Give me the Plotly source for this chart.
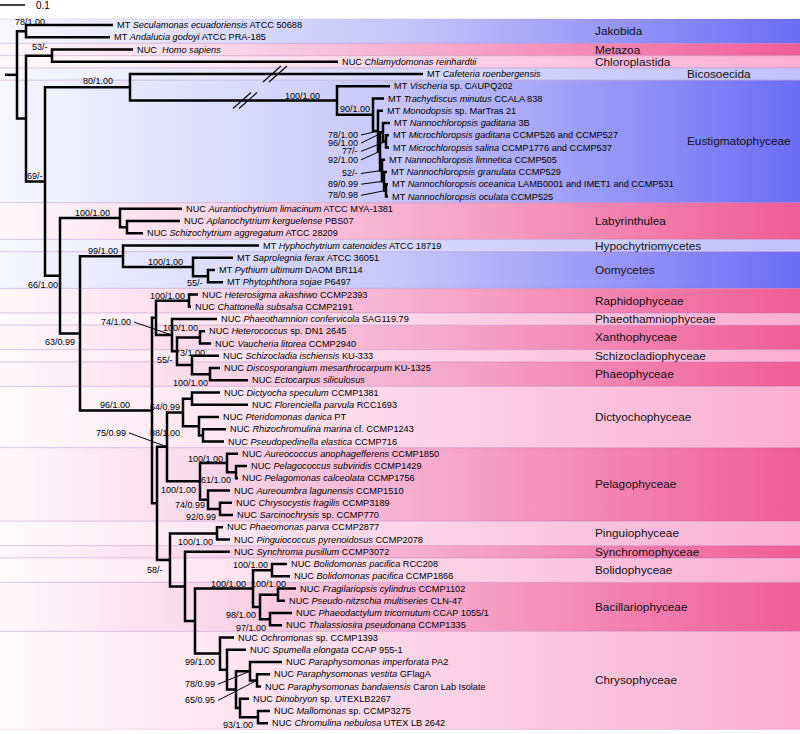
import plotly.graph_objects as go

# ---------------- data ----------------
LEAF_PREFIX = ["MT", "MT", "NUC ", "NUC", "MT",
               "MT", "MT", "MT", "MT", "MT", "MT", "MT", "MT", "MT", "MT",
               "NUC", "NUC", "NUC", "MT", "MT", "MT", "MT",
               "NUC", "NUC", "NUC", "NUC", "NUC", "NUC", "NUC", "NUC",
               "NUC", "NUC", "NUC", "NUC", "NUC",
               "NUC", "NUC", "NUC", "NUC", "NUC", "NUC",
               "NUC", "NUC", "NUC", "NUC", "NUC",
               "NUC", "NUC", "NUC", "NUC",
               "NUC", "NUC", "NUC", "NUC", "NUC", "NUC", "NUC", "NUC"]
LEAF_TAXON = ["Seculamonas ecuadoriensis", "Andalucia godoyi", "Homo sapiens", "Chlamydomonas reinhardtii",
              "Cafeteria roenbergensis",
              "Vischeria", "Trachydiscus minutus", "Monodopsis", "Nannochloropsis gaditana",
              "Microchloropsis gaditana", "Microchloropsis salina", "Nannochloropsis limnetica",
              "Nannochloropsis granulata", "Nannochloropsis oceanica", "Nannochloropsis oculata",
              "Aurantiochytrium limacinum", "Aplanochytrium kerguelense", "Schizochytrium aggregatum",
              "Hyphochytrium catenoides", "Saprolegnia ferax", "Pythium ultimum", "Phytophthora sojae",
              "Heterosigma akashiwo", "Chattonella subsalsa", "Phaeothamnion confervicola",
              "Heterococcus", "Vaucheria litorea", "Schizocladia ischiensis",
              "Discosporangium mesarthrocarpum", "Ectocarpus siliculosus",
              "Dictyocha speculum", "Florenciella parvula", "Pteridomonas danica",
              "Rhizochromulina marina", "Pseudopedinella elastica",
              "Aureococcus anophagefferens", "Pelagococcus subviridis", "Pelagomonas calceolata",
              "Aureoumbra lagunensis", "Chrysocystis fragilis", "Sarcinochrysis",
              "Phaeomonas parva", "Pinguiococcus pyrenoidosus", "Synchroma pusillum",
              "Bolidomonas pacifica", "Bolidomonas pacifica",
              "Fragilariopsis cylindrus", "Pseudo-nitzschia multiseries", "Phaeodactylum tricornutum",
              "Thalassiosira pseudonana",
              "Ochromonas", "Spumella elongata", "Paraphysomonas imperforata", "Paraphysomonas vestita",
              "Paraphysomonas bandaiensis", "Dinobryon", "Mallomonas", "Chromulina nebulosa"]
LEAF_STRAIN = ["ATCC 50688", "ATCC PRA-185", "", "", "",
               "sp. CAUPQ202", "CCALA 838", "sp. MarTras 21", "3B",
               "CCMP526 and CCMP527", "CCMP1776 and CCMP537", "CCMP505",
               "CCMP529", "LAMB0001 and IMET1 and CCMP531", "CCMP525",
               "ATCC MYA-1381", "PBS07", "ATCC 28209",
               "ATCC 18719", "ATCC 36051", "DAOM BR114", "P6497",
               "CCMP2393", "CCMP2191", "SAG119.79",
               "sp. DN1 2645", "CCMP2940", "KU-333", "KU-1325", "",
               "CCMP1381", "RCC1693", "PT", "cf. CCMP1243", "CCMP716",
               "CCMP1850", "CCMP1429", "CCMP1756", "CCMP1510", "CCMP3189", "sp. CCMP770",
               "CCMP2877", "CCMP2078", "CCMP3072", "RCC208", "CCMP1866",
               "CCMP1102", "CLN-47", "CCAP 1055/1", "CCMP1335",
               "sp. CCMP1393", "CCAP 955-1", "PA2", "GFlagA", "Caron Lab Isolate",
               "sp. UTEXLB2267", "sp. CCMP3275", "UTEX LB 2642"]
# tip positions (tree depth, 25 units = 0.1 substitutions/site)
LEAF_TIP = [113, 110, 133, 338, 423,
            390, 384, 383, 390, 389, 389, 385, 387, 388, 388,
            182, 180, 143, 259, 233, 215, 223,
            198, 191, 217, 205, 211, 219, 220, 248,
            220, 248, 219, 226, 224,
            238, 247, 238, 230, 232, 233,
            223, 230, 230, 287, 290,
            296, 285, 292, 282,
            234, 246, 282, 270, 261, 249, 270, 268]

NODE_ID = ["R", "J", "A", "M", "B", "K", "Eu", "N90", "N2", "N3", "N4", "N5", "N6", "N7", "N8",
           "C", "L", "L2", "D", "HO", "O", "O2", "E", "F", "Ra", "H", "I", "X", "S", "P",
           "Q", "G", "Dy", "Dy1", "Dy2", "Dy3", "Pe", "Pe1", "Pe2", "Pe3", "Pe4",
           "T", "Pi", "U", "V", "W", "Bo", "B1", "B2", "B3",
           "C1", "C2", "C3", "C4", "C6", "C5", "C7"]
NODE_X = [17, 26, 26, 52, 45, 130, 337, 373, 378, 380, 383, 386, 382, 384, 386,
          60, 120, 127, 80, 123, 193, 208, 152, 156, 189, 172, 177, 200, 192, 210,
          157, 167, 183, 192, 199, 203, 200, 227, 236, 208, 220,
          170, 217, 185, 195, 253, 272, 260, 278, 270,
          220, 227, 236, 250, 257, 240, 258]
NODE_CHILDREN = [["J", "A"], [0, 1], ["M", "B"], [2, 3], ["K", "C"], [4, "Eu"], [5, "N90"],
                 [6, "N2"], [7, "N3"], ["N4", "N6"], [8, "N5"], [9, 10], [11, "N7"], [12, "N8"], [13, 14],
                 ["L", "D"], [15, "L2"], [16, 17], ["HO", "E"], [18, "O"], [19, "O2"], [20, 21],
                 ["F", "Q"], ["Ra", "H"], [22, 23], [24, "I"], ["X", "S"], [25, 26], [27, "P"], [28, 29],
                 ["G", "T"], ["Dy", "Pe"], ["Dy1", "Dy2"], [30, 31], [32, "Dy3"], [33, 34],
                 ["Pe1", "Pe3"], [35, "Pe2"], [36, 37], [38, "Pe4"], [39, 40],
                 ["Pi", "U"], [41, 42], [43, "V"], ["W", "C1"], ["Bo", "B1"], [44, 45],
                 ["B2", "B3"], [46, 47], [48, 49],
                 [50, "C2"], [51, "C3"], ["C4", "C5"], [52, "C6"], [53, 54], [55, "C7"], [56, 57]]
NODE_SUPPORT = ["", "78/1.00", "", "53/-", "69/-", "80/1.00", "100/1.00", "90/1.00", "78/1.00", "92/1.00",
                "96/1.00", "77/-", "52/-", "89/0.99", "78/0.98",
                "66/1.00", "100/1.00", "", "63/0.99", "99/1.00", "100/1.00", "55/-",
                "96/1.00", "", "100/1.00", "74/1.00", "55/-", "100/1.00", "73/1.00", "100/1.00",
                "", "75/0.99", "64/0.99", "", "88/1.00", "",
                "100/1.00", "100/1.00", "61/1.00", "74/0.99", "92/0.99",
                "58/-", "100/1.00", "", "", "100/1.00", "100/1.00", "98/1.00", "100/1.00", "97/1.00",
                "99/1.00", "", "", "78/0.99", "65/0.95", "", "93/1.00"]
ROOT_STUB = 5

CLADE_NAME = ["Jakobida", "Metazoa", "Chloroplastida", "Bicosoecida", "Eustigmatophyceae",
              "Labyrinthulea", "Hypochytriomycetes", "Oomycetes", "Raphidophyceae",
              "Phaeothamniophyceae", "Xanthophyceae", "Schizocladiophyceae", "Phaeophyceae",
              "Dictyochophyceae", "Pelagophyceae", "Pinguiophyceae", "Synchromophyceae",
              "Bolidophyceae", "Bacillariophyceae", "Chrysophyceae"]
CLADE_FIRST = [0, 2, 3, 4, 5, 15, 18, 19, 22, 24, 25, 27, 28, 30, 35, 41, 43, 44, 46, 50]
CLADE_LAST = [1, 2, 3, 4, 14, 17, 18, 21, 23, 24, 26, 27, 29, 34, 40, 42, 43, 45, 49, 57]
CLADE_KIND = ["bd", "pd", "pl", "bl", "bd", "pd", "bl", "bd", "pd", "pl", "pd", "pl", "pd",
              "pl", "pd", "pl", "pd", "pl", "pd", "pl"]

SCALE_BAR = 25
SCALE_LABEL = "0.1"

# ---------------- styles ----------------
W, H = 800, 734
ROW_PX = 12.25
TOP_PX = 25.0
YR = [(H - TOP_PX) / ROW_PX, -TOP_PX / ROW_PX]
FONT = "Liberation Sans, Arial, sans-serif"
LEAF_FS, SUP_FS, CLADE_FS = 9.2, 9, 11.8
BAND_SCALE = {
    "bd": [[0, "rgb(247,247,255)"], [0.5, "rgb(198,198,250)"], [1, "rgb(108,108,246)"]],
    "bl": [[0, "rgb(248,248,255)"], [0.5, "rgb(216,216,252)"], [1, "rgb(194,194,250)"]],
    "pd": [[0, "rgb(255,248,251)"], [0.25, "rgb(250,218,234)"], [0.55, "rgb(246,168,202)"], [1, "rgb(240,92,150)"]],
    "pl": [[0, "rgb(255,250,252)"], [0.5, "rgb(252,214,232)"], [1, "rgb(251,174,211)"]],
}
CLADE_LABEL_X = {"Bicosoecida": 685, "Eustigmatophyceae": 685}
CLADE_LABEL_X_DEFAULT = 593
# support label offsets: (dx of right edge from node, dy from node in px, leader?)
LABEL_OFF = {
    "J": (21, -9, 0), "M": (-2, -9, 0), "K": (-15, -6, 0), "Eu": (-15, -5, 0), "N90": (-1, -6, 0),
    "B": (0, -5, 0), "C": (0, 9, 0), "L": (-8, -5, 0), "HO": (-3, -5, 0), "O": (-8, -5, 0),
    "O2": (-3, 7, 0), "D": (-3, 9, 0), "E": (-20, -6, 0), "Ra": (-2, -5, 0), "H": (-39, -13, 1),
    "X": (0, -9, 0), "I": (-2, 9, 0), "S": (15, -12, 0), "P": (0, 9, 0), "Dy": (-1, -5, 0),
    "Dy2": (-17, 7, 0), "G": (-39, -14, 1), "Pe1": (-2, -4, 0), "Pe2": (-3, 8, 0), "Pe": (-2, 9, 0),
    "Pe3": (-1, 5, 0), "Pe4": (-2, 8, 0), "Pi": (-2, 9, 0), "T": (-5, 10, 0), "Bo": (-2, -5, 0),
    "W": (-5, -5, 0), "B2": (10, -11, 0), "B1": (-2, 8, 0), "B3": (-2, 9, 0), "C1": (-3, 8, 0),
    "C4": (-33, 13, 1), "C6": (-40, 20, 1), "C7": (-3, 8, 0),
    "N2": (-18, 4, 1), "N4": (-23, 11, 1), "N5": (-26, 10, 1), "N3": (-20, 8.5, 1),
    "N6": (-22, 3, 1), "N7": (-24, 3, 1), "N8": (-26, 5, 1),
}
BREAKS = [(4, 275), ("Eu", 245)]  # (branch target, position of // marks)

# ---------------- layout computation ----------------
idx = {n: k for k, n in enumerate(NODE_ID)}
pos = {}


def place(ref):
    if isinstance(ref, int):
        return (LEAF_TIP[ref], float(ref))
    k = idx[ref]
    ys = [place(c)[1] for c in NODE_CHILDREN[k]]
    pos[ref] = (NODE_X[k], (ys[0] + ys[-1]) / 2)
    return pos[ref]


place("R")


def xy(ref):
    return (LEAF_TIP[ref], float(ref)) if isinstance(ref, int) else pos[ref]


fig = go.Figure()

# bands
for name, a, b, kind in zip(CLADE_NAME, CLADE_FIRST, CLADE_LAST, CLADE_KIND):
    t, bt = a - 0.5, b + 0.5
    fig.add_trace(go.Scatter(x=[0, W, W, 0, 0], y=[t, t, bt, bt, t], mode="lines", fill="toself",
                             fillgradient=dict(type="horizontal", colorscale=BAND_SCALE[kind], start=0, stop=W),
                             line=dict(width=0, color="rgba(0,0,0,0)"), hoverinfo="skip"))
    fig.add_annotation(x=CLADE_LABEL_X.get(name, CLADE_LABEL_X_DEFAULT), y=(a + b) / 2, text=name,
                       xanchor="left", yanchor="middle", showarrow=False,
                       font=dict(family=FONT, size=CLADE_FS, color="#111"))

# band boundaries
bx, by = [], []
for a, b in zip(CLADE_FIRST, CLADE_LAST):
    for yy in (a - 0.5, b + 0.5):
        bx += [0, W, None]
        by += [yy, yy, None]
fig.add_trace(go.Scatter(x=bx, y=by, mode="lines", line=dict(width=1, color="rgba(170,110,190,0.2)"),
                         hoverinfo="skip"))

# branches
lx, ly = [], []
for k, nid in enumerate(NODE_ID):
    px, py = pos[nid]
    ch = [xy(c) for c in NODE_CHILDREN[k]]
    lx += [ch[0][0], px, px, ch[-1][0], None]
    ly += [ch[0][1], ch[0][1], ch[-1][1], ch[-1][1], None]
    for c in ch[1:-1]:
        lx += [px, c[0], None]
        ly += [c[1], c[1], None]
rx, ry = pos["R"]
lx += [ROOT_STUB, rx, None]
ly += [ry, ry, None]
fig.add_trace(go.Scatter(x=lx, y=ly, mode="lines", line=dict(width=2.5, color="black"), hoverinfo="skip"))

# break marks
mx, my = [], []
for target, bxp in BREAKS:
    ty = xy(target)[1]
    for off in (-3, 3):
        mx += [bxp + off - 9, bxp + off + 9, None]
        my += [ty + 8 / ROW_PX, ty - 8 / ROW_PX, None]
fig.add_trace(go.Scatter(x=mx, y=my, mode="lines", line=dict(width=1.1, color="black"), hoverinfo="skip"))

# leaf labels
for i in range(len(LEAF_TIP)):
    txt = f"{LEAF_PREFIX[i]} <i>{LEAF_TAXON[i]}</i>"
    if LEAF_STRAIN[i]:
        txt += " " + LEAF_STRAIN[i]
    fig.add_annotation(x=LEAF_TIP[i], y=i, xshift=2, text=txt, xanchor="left", yanchor="middle",
                       showarrow=False, font=dict(family=FONT, size=LEAF_FS, color="black"))

# support labels
ldx, ldy = [], []
for k, nid in enumerate(NODE_ID):
    s = NODE_SUPPORT[k]
    if not s:
        continue
    px, py = pos[nid]
    dx, dy, lead = LABEL_OFF[nid]
    tx, ty = px + dx, py + dy / ROW_PX
    fig.add_annotation(x=tx, y=ty, text=s, xanchor="right", yanchor="middle", showarrow=False,
                       font=dict(family=FONT, size=SUP_FS, color="black"))
    if lead:
        ldx += [tx + 1, px, None]
        ldy += [ty, py, None]
fig.add_trace(go.Scatter(x=ldx, y=ldy, mode="lines", line=dict(width=1, color="black"), hoverinfo="skip"))

# scale bar
sb_y = (5 - TOP_PX) / ROW_PX
fig.add_trace(go.Scatter(x=[0, SCALE_BAR], y=[sb_y, sb_y], mode="lines", line=dict(width=1.5, color="black"),
                         hoverinfo="skip"))
fig.add_annotation(x=SCALE_BAR, y=sb_y, xshift=9, text=SCALE_LABEL, xanchor="left", yanchor="middle",
                   showarrow=False, font=dict(family=FONT, size=10, color="black"))

fig.update_layout(width=W, height=H, margin=dict(l=0, r=0, t=0, b=0), showlegend=False,
                  paper_bgcolor="white", plot_bgcolor="white")
fig.update_xaxes(range=[0, W], visible=False, fixedrange=True)
fig.update_yaxes(range=YR, visible=False, fixedrange=True)
fig.write_html("out.html", config={"displayModeBar": False},
               post_script="document.body.style.margin='0px';document.body.style.overflow='hidden';")
